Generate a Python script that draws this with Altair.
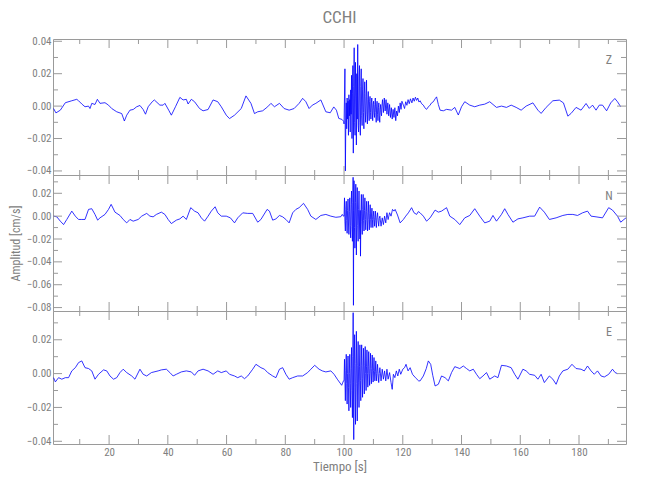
import altair as alt
import pandas as pd

TITLE = "CCHI"
X_TITLE = "Tiempo [s]"
Y_TITLE = "Amplitud [cm/s]"
X_DOMAIN = [0.9, 196.0]
X_LABELS = [20, 40, 60, 80, 100, 120, 140, 160, 180]
X_MINOR = [10, 30, 50, 70, 90, 110, 130, 150, 170, 190]

SCALE = 0.001  # trace values below are in units of 1e-3 cm/s

# (time [s], amplitude [1e-3 cm/s])
Z = [(1.1,-1.5),(1.9,-4.2),(3.4,-2.5),(5.1,2.1),(7.3,3.3),(9.0,4.2),(9.6,3.3),(10.7,1.3),(11.8,-0.4),(13.0,0),
     (13.5,-1.5),(14.1,1.7),(15.2,1.0),(16.0,4.2),(16.9,1.7),(18.6,2.1),(19.8,0.6),(20.9,-1.5),(22.6,-3.5),(24.3,-4.6),
     (25.2,-9.2),(26.0,-5.6),(27.1,-2.5),(28.2,-2.1),(29.4,-0.4),(30.5,0.4),(31.6,-2.1),(32.4,-5.0),(33.3,-0.4),(34.7,2.7),
     (35.4,3.8),(37.3,0.6),(38.4,0.6),(39.0,1.7),(40.3,-2.5),(41.2,-5.6),(42.6,-0.4),(44.1,5.4),(45.2,3.8),(46.3,4.2),
     (46.9,1.3),(48.0,4.2),(49.1,2.7),(50.8,-1.5),(52.0,-2.9),(53.7,-2.1),(55.4,3.8),(57.0,2.7),(58.2,-0.4),(59.9,-5.6),
     (61.0,-7.7),(62.7,-5.6),(65.0,-1.5),(66.6,6.3),(68.3,1.7),(69.5,-4.6),(70.6,-3.5),(72.3,-2.9),(74.0,-0.4),(75.1,1.7),
     (76.3,-0.4),(78.0,1.7),(79.6,-1.5),(81.3,-2.5),(83.0,-1.5),(84.7,1.7),(85.9,4.8),(87.0,2.7),(88.1,-1.5),(89.2,0.6),
     (90.4,1.7),(92.1,3.8),(93.8,-3.5),(95.3,-4.1),(96.5,-0.5),(97.4,-2.5),(98.2,-7.6),(99.3,-8.2),(99.9,-9.5),
     (100.0,-11),(100.3,23),(100.45,-40),
     (100.6,-10),(100.75,2),(100.9,-14),(101.05,5),(101.2,-8),(101.35,3),(101.5,-18),(101.65,7),(101.8,-6),(101.95,4),
     (102.1,-16),(102.25,10),(102.4,-5),(102.55,19),(102.7,-20),(102.85,8),(103.0,25),(103.15,-29),(103.3,12),(103.45,36),
     (103.6,-10),(103.75,-18),(103.9,27),(104.05,5),(104.2,-24),(104.35,20),(104.5,-8),(104.65,38),(104.8,-12),(104.95,-16),
     (105.1,18),(105.25,25),(105.4,-10),(105.55,-18),(105.7,12),(105.85,23),(106.0,-6),(106.15,-12),(106.3,10),(106.45,17),
     (106.6,-4),(106.75,-14),(106.9,8),(107.05,15),(107.2,-3),(107.35,-10),(107.5,6),(107.65,16),(107.8,-5),(107.95,-11),
     (108.1,4),(108.25,9),(108.4,-3),(108.55,-9),(108.7,3),(108.85,6),(109.0,-4),(109.15,-8),(109.3,2),(109.45,5),
     (109.6,-3),(109.75,-9),(109.9,1),(110.05,3),(110.2,-4),(110.35,-7),(110.5,1),(110.65,5),(110.8,-4),(110.95,-10),
     (111.1,0),(111.25,3),(111.4,-5),(111.55,-9),(111.7,-1),(111.85,2),(112.0,-6),(112.15,-10),(112.3,-2),(112.45,1),
     (112.6,-4),(112.75,-6),(112.9,0),
     (113.1,4),(113.4,-4),(113.7,5),(114.0,-3),(114.3,4),(114.6,-5),
     (114.9,2),(115.2,-6),(115.5,1),(115.8,-7),(116.1,-1),(116.4,-8),(116.7,-2),(117.0,-7),(117.3,-1),(117.6,-9),
     (117.9,-3),(118.2,-6),(118.5,0),(118.8,-4),(119.1,2),(119.4,-2),(119.7,3),
     (120.2,0.6),(120.6,-1.5),(121.0,2.7),(121.4,0.5),(121.8,4.0),(122.2,1.5),(122.6,4.5),(123.1,2.0),(123.5,5.0),(123.9,3.0),
     (124.3,5.5),(124.7,3.5),(125.1,5.0),(125.5,2.5),(125.9,3.3),(126.4,1.5),(127.0,0.6),(127.5,-1.0),(128.1,-2.0),(128.7,-0.5),
     (129.3,0.6),(129.8,2.0),(130.4,2.7),(131.0,4.5),(131.5,5.7),(132.1,1.0),(132.7,-2.5),(133.8,-2.9),(134.9,-2.0),(136.6,-2.5),
     (137.7,-0.8),(138.9,-5.5),(140.0,-0.4),(141.1,2.7),(142.8,0.6),(144.5,-0.4),(146.2,0.6),(147.9,1.2),(149.6,2.7),(151.9,-0.8),
     (153.6,0),(155.3,-0.8),(156.9,0.6),(158.6,-0.8),(160.3,-2.5),(162.0,0),(164.3,2.0),(166.0,-2.5),(167.1,-4.5),(168.8,-0.8),
     (171.1,3.3),(173.3,3.7),(174.7,2.0),(176.2,-6.2),(177.3,-4.5),(179.0,-0.8),(180.7,-2.5),(182.4,1.6),(183.5,-1.4),(184.6,0.6),
     (185.8,-2.5),(186.9,0.6),(188.0,0.6),(189.4,-2.9),(190.8,2.0),(192.2,4.7),(193.1,2.7),(194.2,-0.4)]

N = [(1.1,0),(2.2,-0.6),(3.4,-4.4),(4.5,-7.4),(5.6,-2.9),(7.3,4.4),(8.5,0),(9.6,-2.9),(10.7,-2.9),(11.8,-2.9),
     (13.0,5.9),(14.1,6.5),(15.2,1.5),(16.1,-3.5),(16.9,-1.5),(18.6,1.5),(19.8,5.9),(20.7,10.3),(22.0,3.5),(23.7,0.6),
     (24.8,-2.9),(26.0,-5.9),(27.1,-2.9),(28.2,-4.4),(29.9,-2.9),(31.1,0),(32.8,2.4),(33.9,0),(35.0,-0.6),(36.1,1.5),
     (37.8,3.5),(39.0,1.5),(40.1,-2.9),(41.2,-6.5),(42.9,-3.5),(44.1,-2.4),(45.2,0),(46.3,-2.9),(47.8,7.4),(49.1,4.4),
     (50.3,2.9),(51.4,-1.5),(52.5,-4.4),(53.7,0),(54.8,4.4),(56.1,8.2),(57.0,2.9),(58.2,0),(59.9,0),(61.3,-1.5),
     (62.7,-5.9),(63.8,-1.5),(65.5,2.9),(67.2,2.4),(68.9,2.4),(70.6,-5.3),(71.7,-2.9),(73.8,5.9),(74.6,4.4),(75.7,-3.5),
     (76.8,-2.4),(78.0,0.6),(79.1,-0.6),(80.2,-2.9),(81.3,-5.9),(82.5,2.9),(83.6,5.9),(84.7,7.4),(86.2,11.2),(87.6,5.9),
     (88.7,0),(90.4,-2.9),(92.1,0.6),(93.8,1.5),(95.5,0),(97.2,-1.0),(98.9,-0.5),(99.4,1.5),(99.8,0),
     (100.0,0),(100.15,16),(100.3,-5),(100.45,-13),(100.6,6),(100.75,13),(100.9,-4),(101.05,-15),(101.2,5),(101.35,15),
     (101.5,-6),(101.65,-16),(101.8,4),(101.95,16),(102.1,-8),(102.25,-19),(102.4,10),(102.55,22),(102.7,-9),(102.85,-22),
     (103.0,12),(103.08,34),(103.2,-78),(103.3,5),(103.4,31),(103.55,-10),(103.7,-28),(103.85,12),(104.0,28),(104.1,-10),
     (104.2,-34),(104.35,8),(104.5,25),(104.65,-8),(104.8,-22),(104.95,6),(105.1,22),(105.25,-6),(105.4,-20),(105.5,5),
     (105.6,-35),(105.75,4),(105.9,19),(106.05,-5),(106.2,-16),(106.35,6),(106.5,19),(106.65,-4),(106.8,-13),(106.95,5),
     (107.1,16),(107.25,-3),(107.4,-12),(107.55,4),(107.7,13),(107.85,-4),(108.0,-13),(108.15,3),(108.3,13),(108.45,-3),
     (108.6,-12),(108.75,2),(108.9,10),(109.05,-3),(109.2,-10),(109.35,1),(109.5,7),(109.65,-3),(109.8,-10),(109.95,0),
     (110.1,4.4),(110.25,-3),(110.4,-8.8),(110.55,-1),(110.7,4.4),(110.85,-4),(111.0,-10),(111.2,-1),(111.4,3),(111.6,-4),
     (111.8,-8.8),(112.0,-2),(112.2,0),
     (112.6,-8.8),(113.0,-1.5),(113.4,-7.4),(113.8,0),(114.2,-5.9),(114.6,3),(115.0,-3),
     (115.5,3),(116.0,0),(116.5,5.9),(117.0,4.4),
     (117.4,5.9),(118.2,1),(119.1,-5.9),(120.2,-2.9),(121.0,0),(121.9,2.9),(123.0,7.4),(123.8,3),(124.7,1.5),(125.3,4),
     (125.9,2.9),(127.0,0),(128.1,-4.4),(129.3,-1.5),(131.0,5.3),(132.1,3.5),(133.2,4.4),(134.9,7.4),(136.0,0),(137.7,-2.9),
     (139.4,-7.4),(141.1,-1.5),(142.8,0.6),(144.5,6.5),(146.2,0),(147.9,-5.9),(149.6,-4.4),(150.7,0.6),(151.9,-4.4),(153.6,1.5),
     (154.7,6.5),(155.8,1.5),(157.5,-5.3),(159.2,-2.4),(160.9,-1.5),(163.2,0),(164.9,0),(166.6,7.9),(168.2,3.5),(169.9,-2.9),
     (172.2,-1.5),(174.5,0.6),(176.2,1.5),(177.9,1.5),(179.5,0.6),(181.2,2.9),(182.9,4.4),(184.1,0),(185.8,-0.6),(188.0,-1.5),
     (190.1,7.4),(191.4,5.3),(193.1,0),(194.2,-5.3),(195.3,-2.9),(196.0,-1.5)]

E = [(1.1,-2.4),(1.7,-4.9),(2.8,-2.4),(3.9,-3.3),(5.1,-2.4),(6.2,-2.4),(7.3,1.6),(8.5,3.5),(9.6,6.5),(10.7,7.5),
     (11.8,3.5),(13.0,3.0),(14.1,1.6),(15.2,-3.3),(16.4,-0.4),(18.1,2.2),(19.2,1.6),(20.3,-1.4),(21.5,-3.3),(22.6,-2.4),
     (23.7,0.6),(24.8,2.6),(26.0,0.6),(27.7,-1.4),(28.8,-3.3),(30.5,2.6),(31.6,-0.4),(32.8,-1.4),(34.4,0.6),(36.7,1.6),
     (37.8,2.2),(39.5,2.6),(40.7,0.6),(41.8,-1.4),(42.9,-0.4),(44.6,1.0),(46.3,1.6),(48.0,1.0),(49.1,-1.0),(50.3,1.6),
     (52.0,2.6),(53.7,1.6),(55.4,-0.4),(57.0,1.6),(58.2,0.6),(59.9,1.6),(61.0,-0.4),(62.7,-1.4),(63.8,-2.4),(65.0,-1.4),
     (66.1,-3.0),(67.2,-1.4),(68.9,2.6),(70.0,5.5),(71.7,3.5),(72.9,2.6),(74.0,0.6),(75.7,-1.4),(76.8,-2.4),(78.0,2.6),
     (79.1,3.5),(80.2,-0.4),(81.3,-3.3),(82.5,-2.4),(84.2,-1.4),(85.9,-1.4),(87.6,0.6),(88.7,2.6),(90.0,4.9),(91.5,2.6),
     (92.6,1.6),(93.8,1.0),(95.5,1.6),(96.6,-0.4),(97.7,-3.3),(99.2,-6.9),(99.8,-4.3),
     (100.0,-4.3),(100.15,8.5),(100.3,-4),(100.45,-16),(100.6,2),(100.75,11.4),(100.9,-6),(101.05,-18),(101.2,0),(101.35,10.4),
     (101.5,-8),(101.65,-22),(101.8,0),(101.95,11.4),(102.1,-6),(102.25,-20),(102.4,3),(102.55,15.4),(102.7,-10),(102.85,-26),
     (103.0,10),(103.1,36),(103.2,-5),(103.3,-39),(103.45,5),(103.6,23),(103.75,-8),(103.9,-30),(104.05,6),(104.2,25),
     (104.35,-6),(104.5,-28),(104.65,5),(104.8,19),(104.95,-5),(105.1,-20),(105.25,4),(105.4,17),(105.55,-4),(105.7,-16),
     (105.85,5),(106.0,17),(106.15,-3),(106.3,-14),(106.45,4),(106.6,15),(106.75,-2),(106.9,-12),(107.05,5),(107.2,16),
     (107.35,0),(107.5,-10),(107.65,4),(107.8,14),(107.95,0),(108.1,-8),(108.25,4),(108.4,13),(108.55,0),(108.7,-7),
     (108.85,3),(109.0,12),(109.15,1),(109.3,-6),(109.45,3),(109.6,11),(109.75,1),(109.9,-5),(110.05,2),(110.2,9.5),
     (110.35,1),(110.5,-4.3),(110.65,1),(110.8,7.5),(110.95,0),(111.1,-4.3),(111.25,1),(111.4,5.5),(111.6,0),(111.8,-5.3),
     (112.0,0),(112.2,3.5),
     (112.6,-4.3),(113.0,2.6),(113.4,-3.3),(113.8,1.6),(114.2,-4.3),(114.6,2.6),(115.0,-3.3),(115.5,0.6),
     (116.0,-5.3),(116.4,-9.3),(116.8,-0.4),(117.3,-2.4),(117.8,1.6),(118.3,-1.4),(118.8,2.6),(119.3,-0.4),(120.0,2.6),(120.6,3.5),
     (121.1,5.5),(121.8,1.6),(122.5,3.5),(123.3,-0.4),(124.3,-2.4),(125.4,-4.3),
     (125.9,-4.3),(127.0,-1.4),(128.0,3.0),(128.7,7.5),(129.5,5.5),(130.2,-1.0),(131.0,-7.3),(132.1,-6.3),(133.2,-1.4),(134.4,-2.4),
     (135.5,-4.3),(136.6,0.6),(137.7,4.1),(139.4,3.0),(140.6,4.5),(141.7,3.0),(142.8,1.6),(144.0,2.6),(145.1,-0.4),(146.2,-3.0),
     (147.3,-1.4),(148.5,0.6),(149.6,-3.3),(151.3,-1.4),(152.4,-2.4),(153.6,4.9),(155.3,4.5),(156.9,3.5),(158.1,-0.4),(159.2,-3.3),
     (160.9,2.6),(162.0,1.6),(163.2,-0.4),(164.9,-1.0),(166.0,-3.3),(167.1,-0.4),(168.2,-5.3),(169.9,-1.4),(171.1,-3.3),(172.2,-6.3),
     (173.3,-1.4),(174.5,1.6),(176.2,2.6),(177.6,5.5),(179.0,3.0),(180.7,2.6),(181.8,1.6),(182.9,4.5),(184.1,1.6),(185.2,-0.4),
     (186.3,1.6),(187.5,-1.4),(188.6,-2.0),(190.1,-0.4),(191.4,2.6),(192.3,0.6),(193.1,0)]

PANELS = [
    dict(label="Z", data=Z, domain=[-0.0425, 0.0414], height=136,
         major=[-0.04, -0.02, 0.0, 0.02, 0.04], minor=[-0.03, -0.01, 0.01, 0.03]),
    dict(label="N", data=N, domain=[-0.083, 0.036], height=136,
         major=[-0.08, -0.06, -0.04, -0.02, 0.0, 0.02], minor=[-0.07, -0.05, -0.03, -0.01, 0.01, 0.03]),
    dict(label="E", data=E, domain=[-0.0416, 0.037], height=133,
         major=[-0.04, -0.02, 0.0, 0.02], minor=[-0.03, -0.01, 0.01, 0.03]),
]

W = 573
LINE_GRAY = "#9a9a9a"
TEXT_GRAY = "#808080"
FONT = "Roboto Condensed, DejaVu Sans Condensed, sans-serif"
MAJ, MIN = 9, 5


def make_panel(i, p):
    H = p["height"]
    df = pd.DataFrame(p["data"], columns=["t", "v"])
    df["v"] = df["v"] * SCALE
    xscale = alt.Scale(domain=X_DOMAIN, nice=False, zero=False)
    yscale = alt.Scale(domain=p["domain"], nice=False, zero=False)
    last = i == len(PANELS) - 1
    if last:
        xaxis = alt.Axis(values=X_LABELS, format="d", ticks=False, domain=False, grid=False,
                         labelPadding=2, title=X_TITLE, titlePadding=3, titleFontSize=13)
    else:
        xaxis = None
    ykw = dict(values=p["major"], format=".2f", ticks=False, domain=False, grid=False,
               labelPadding=2)
    if i == 1:
        ykw["title"] = Y_TITLE
        ykw["titleX"] = -31
        ykw["titleFontSize"] = 12
    else:
        ykw["title"] = None
    yaxis = alt.Axis(**ykw)

    line = alt.Chart(df).mark_line(color="#0000ff", strokeWidth=0.8, clip=True)
    layers = [line]

    xmaj = pd.DataFrame({"t": X_LABELS})
    xmin = pd.DataFrame({"t": X_MINOR})
    ymaj = pd.DataFrame({"v": p["major"]})
    ymin = pd.DataFrame({"v": p["minor"]})
    for d, L in ((xmaj, MAJ), (xmin, MIN)):
        for y0, y1 in ((0, L), (H, H - L)):
            layers.append(alt.Chart(d).mark_rule(color=LINE_GRAY, strokeWidth=1).encode(
                y=alt.value(y0), y2=alt.value(y1)))
    for d, L in ((ymaj, MAJ), (ymin, MIN)):
        for x0, x1 in ((0, L), (W, W - L)):
            layers.append(alt.Chart(d).mark_rule(color=LINE_GRAY, strokeWidth=1).encode(
                x=alt.value(x0), x2=alt.value(x1)))

    lab = pd.DataFrame({"s": [p["label"]]})
    layers.append(alt.Chart(lab).mark_text(font=FONT, fontSize=12, color=TEXT_GRAY,
                                           align="center", baseline="middle").encode(
        text="s:N", x=alt.value(W - 17), y=alt.value(21)))

    props = dict(width=W, height=H)
    if i == 0:
        props["title"] = alt.TitleParams(TITLE, font=FONT, fontSize=17, fontWeight="normal",
                                         color=TEXT_GRAY, anchor="middle", frame="group", offset=8)
    return alt.layer(*layers).encode(
        x=alt.X("t:Q", scale=xscale, axis=xaxis),
        y=alt.Y("v:Q", scale=yscale, axis=yaxis),
    ).properties(**props)


chart = alt.vconcat(*[make_panel(i, p) for i, p in enumerate(PANELS)], spacing=0, bounds="flush").properties(
    padding={"left": 0, "top": 0, "right": 5, "bottom": 5}
).configure_view(stroke=LINE_GRAY, strokeWidth=1).configure_axis(
    labelFont=FONT, labelFontSize=11, labelColor=TEXT_GRAY,
    titleFont=FONT, titleFontSize=11, titleColor=TEXT_GRAY, titleFontWeight="normal",
)

chart.save("out.html", embed_options={"renderer": "svg", "actions": False})
